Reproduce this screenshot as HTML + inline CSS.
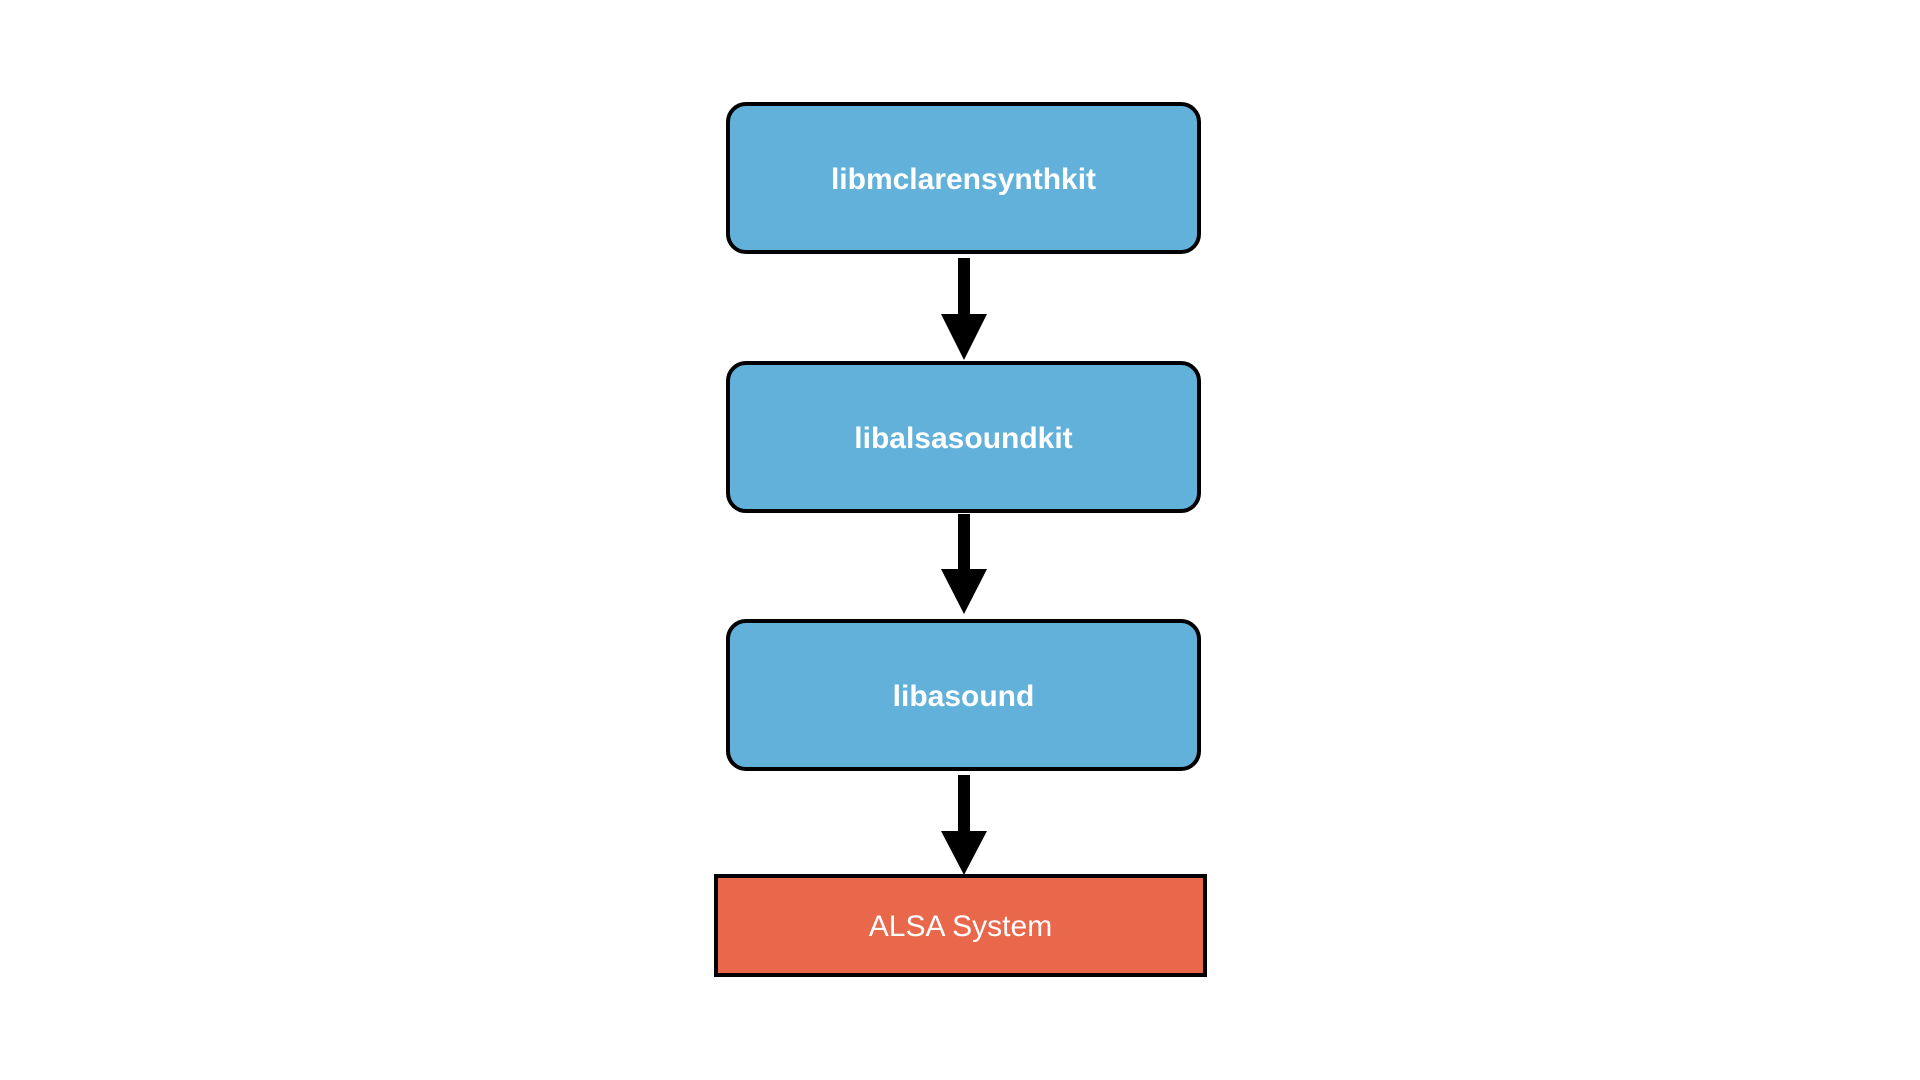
<!DOCTYPE html>
<html><head><style>
body{margin:0;width:1920px;height:1080px;background:#fff;position:relative;overflow:hidden;font-family:"Liberation Sans",sans-serif}
.b{position:absolute;left:726px;width:475px;height:152px;box-sizing:border-box;border:4.5px solid #000;border-radius:20px;background:#61b1da;color:#fff;font-weight:bold;font-size:30px;display:flex;align-items:center;justify-content:center;padding-top:4px}
.r{position:absolute;left:714px;top:874px;width:493px;height:103px;box-sizing:border-box;border:4.5px solid #000;background:#e9674a;color:#fff;font-size:30px;display:flex;align-items:center;justify-content:center;padding-top:2px}
</style></head><body>
<div class="b" style="top:102px">libmclarensynthkit</div>
<div class="b" style="top:361px">libalsasoundkit</div>
<div class="b" style="top:619px">libasound</div>
<div class="r">ALSA System</div>
<svg width="1920" height="1080" style="position:absolute;left:0;top:0">
<g fill="#000">
<rect x="958" y="258" width="12" height="58"/><polygon points="941,314 987,314 964,360"/>
<rect x="958" y="514" width="12" height="58"/><polygon points="941,569 987,569 964,614"/>
<rect x="958" y="775" width="12" height="58"/><polygon points="941,831 987,831 964,875"/>
</g></svg>
</body></html>
